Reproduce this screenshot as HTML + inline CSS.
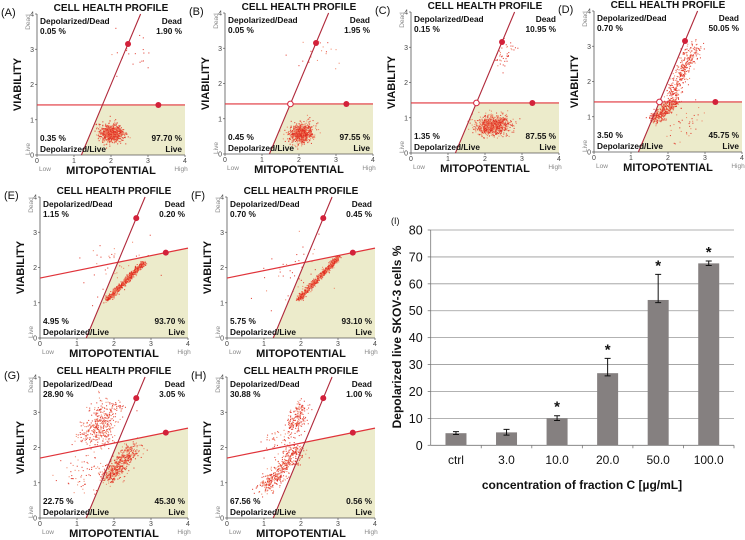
<!DOCTYPE html>
<html><head><meta charset="utf-8"><style>
body{margin:0;background:#fff;}
svg{display:block;font-family:"Liberation Sans",sans-serif;}
</style></head><body>
<svg id="fig" width="745" height="540" viewBox="0 0 745 540"></svg>
<script>
// ---------- Flow panel data ----------
const panelLabels = ["(A)","(B)","(C)","(D)","(E)","(F)","(G)","(H)"];
const panelLeft = [37,225,411,594,40,227,40,227];
const panelTop = [14,13,12,11,197,197,377,377];
const pctDD = ["0.05 %","0.05 %","0.15 %","0.70 %","1.15 %","0.70 %","28.90 %","30.88 %"];
const pctDead = ["1.90 %","1.95 %","10.95 %","50.05 %","0.20 %","0.45 %","3.05 %","1.00 %"];
const pctDL = ["0.35 %","0.45 %","1.35 %","3.50 %","4.95 %","5.75 %","22.75 %","67.56 %"];
const pctLive = ["97.70 %","97.55 %","87.55 %","45.75 %","93.70 %","93.10 %","45.30 %","0.56 %"];
const gateH0 = [1.42,1.42,1.42,1.42,1.7,1.7,1.7,1.7];
const gateH4 = [1.42,1.42,1.42,1.42,2.55,2.55,2.55,2.55];
const gateD0 = [1.2,1.2,1.2,1.2,1.25,1.25,1.25,1.25];
const gateD4 = [2.8,2.8,2.8,2.8,2.84,2.84,2.84,2.84];
const hollow = [false,true,true,true,false,false,false,false];
// clusters: [x0,y0,x1,y1,spread,count]
const clusters = [
 [[1.95,0.6,2.05,0.65,0.16,700],[2.4,2.5,2.8,3.1,0.3,20]],
 [[2.0,0.55,2.1,0.65,0.16,700],[2.3,2.5,2.8,3.1,0.3,20]],
 [[1.9,0.75,2.5,0.85,0.17,750],[2.4,2.5,2.7,3.1,0.12,40]],
 [[1.6,0.9,2.2,1.5,0.09,400],[2.1,1.6,2.7,3.05,0.11,350],[2.2,0.5,2.8,1.2,0.3,40]],
 [[1.8,1.1,2.8,2.15,0.04,650],[1.6,1.2,2.4,2.8,0.4,40]],
 [[1.9,1.1,3.0,2.3,0.04,650],[1.4,1.0,2.2,2.6,0.4,40]],
 [[1.8,1.1,2.5,2.0,0.13,500],[1.4,2.2,1.9,3.2,0.22,400],[1.0,1.0,1.6,1.8,0.3,80]],
 [[1.0,0.8,1.9,2.0,0.13,450],[1.8,2.5,2.0,3.25,0.13,180],[1.2,2.0,1.8,2.6,0.2,60]]
];
// ---------- Bar chart data ----------
const barCats = ["ctrl","3.0","10.0","20.0","50.0","100.0"];
const barVals = [4.5,4.8,10.0,26.8,54.0,67.6];
const errUp = [0.6,1.1,1.0,5.5,9.5,0.9];
const errDn = [0.5,1.0,0.8,1.0,1.0,0.8];
const stars = [false,false,true,true,true,true];
const yTicks = [0,10,20,30,40,50,60,70,80];

const NS="http://www.w3.org/2000/svg";
const svg=document.getElementById('fig');
function mk(tag,attrs,parent){const e=document.createElementNS(NS,tag);for(const k in attrs)e.setAttribute(k,attrs[k]);(parent||svg).appendChild(e);return e;}
let seed=12345;function rnd(){seed=(seed*1103515245+12345)%2147483648;return seed/2147483648;}
function gauss(){let u=rnd()||1e-6,v=rnd();return Math.sqrt(-2*Math.log(u))*Math.cos(2*Math.PI*v);}

const PW=148,PH=141;
for(let p=0;p<8;p++){
  const L=panelLeft[p],T=panelTop[p];
  const g=mk('g',{});
  
  
  const sx=v=>L+v/4*PW, sy=v=>T+PH-v/4*PH;
  const h0=gateH0[p],h4=gateH4[p],d0=gateD0[p],d4=gateD4[p];
  const hs=(h4-h0)/4, ds=4/(d4-d0);
  const ix=(h0+ds*d0)/(ds-hs), iy=h0+hs*ix;
  const poly=mk('polygon',{points:`${sx(d0)},${sy(0)} ${sx(4)},${sy(0)} ${sx(4)},${sy(h4)} ${sx(ix)},${sy(iy)}`,fill:'#ecebcb'},g);
  
  for(const c of clusters[p]){
    const [x0,y0,x1,y1,s,n]=c;
    for(let i=0;i<n;i++){
      const t=rnd();const x=x0+(x1-x0)*t+gauss()*s, y=y0+(y1-y0)*t+gauss()*s*0.8;
      if(x<0||x>4||y<0||y>4)continue;
      mk('rect',{x:sx(x).toFixed(1),y:sy(y).toFixed(1),width:1.1,height:1.1,fill:rnd()<0.6?'#e02a1e':'#f07a5a',opacity:0.8},g);
    }
  }
  const ax=mk('path',{d:`M${L},${T} V${T+PH} H${L+PW}`,stroke:'#555',fill:'none','stroke-width':0.8},g);
  
  for(let k=0;k<=4;k++){
    mk('line',{x1:sx(k),y1:T+PH,x2:sx(k),y2:T+PH+2,stroke:'#555','stroke-width':0.7},g);
    mk('line',{x1:L-2,y1:sy(k),x2:L,y2:sy(k),stroke:'#555','stroke-width':0.7},g);
    const tx=mk('text',{x:sx(k),y:T+PH+8,'font-size':7,'text-anchor':'middle',fill:'#444'},g);tx.textContent=k;
    const ty=mk('text',{x:L-3,y:sy(k)+2.5,'font-size':7,'text-anchor':'end',fill:'#444'},g);ty.textContent=k;
  }
  mk('line',{x1:sx(0),y1:sy(h0),x2:sx(4),y2:sy(h4),stroke:'#e0333a','stroke-width':1.2},g);
  mk('line',{x1:sx(d0),y1:sy(0),x2:sx(d4),y2:sy(4),stroke:'#b0283a','stroke-width':1.1},g);
  const dx=d0+(d4-d0)*(p<4?3.15:3.4)/4;
  mk('circle',{cx:sx(dx),cy:sy(p<4?3.15:3.4),r:3,fill:'#d3213a'},g);
  mk('circle',{cx:sx(p<4?3.28:3.4),cy:sy(h0+hs*(p<4?3.28:3.4)),r:3,fill:'#d3213a'},g);
  if(hollow[p])mk('circle',{cx:sx(ix),cy:sy(iy),r:2.8,fill:'#fff',stroke:'#d3213a','stroke-width':1},g);
  const txt=(x,y,s,sz,anc,w,col)=>{const e=mk('text',{x,y,'font-size':sz,'text-anchor':anc||'start','font-weight':w||'normal',fill:col||'#111'},g);e.textContent=s;return e;};
  txt(L-36,T+2,panelLabels[p],11,'start','normal');
  txt(L+PW/2,T-3,'CELL HEALTH PROFILE',10,'middle','bold');
  txt(L+3,T+10,'Depolarized/Dead',8.3,'start','bold');
  txt(L+3,T+20,pctDD[p],8.3,'start','bold');
  txt(L+PW-3,T+10,'Dead',8.3,'end','bold');
  txt(L+PW-3,T+20,pctDead[p],8.3,'end','bold');
  txt(L+3,T+PH-14,pctDL[p],8.3,'start','bold');
  txt(L+3,T+PH-3,'Depolarized/Live',8.3,'start','bold');
  txt(L+PW-3,T+PH-14,pctLive[p],8.3,'end','bold');
  txt(L+PW-3,T+PH-3,'Live',8.3,'end','bold');
  txt(L+PW/2,T+PH+19,'MITOPOTENTIAL',11,'middle','bold');
  txt(L+8,T+PH+16,'Low',6.5,'middle','normal','#888');
  txt(L+PW-4,T+PH+16,'High',6.5,'middle','normal','#888');
  const vy=mk('text',{x:0,y:0,'font-size':11,'font-weight':'bold','text-anchor':'middle',transform:`translate(${L-16},${T+PH/2}) rotate(-90)`,fill:'#111'},g);vy.textContent='VIABILITY';
  const dd=mk('text',{x:0,y:0,'font-size':6.5,'text-anchor':'middle',transform:`translate(${L-7},${T+8}) rotate(-90)`,fill:'#888'},g);dd.textContent='Dead';
  const lv=mk('text',{x:0,y:0,'font-size':6.5,'text-anchor':'middle',transform:`translate(${L-7},${T+PH-6}) rotate(-90)`,fill:'#888'},g);lv.textContent='Live';
}

// ---------- Bar chart ----------
const bx0=430.7,bx1=734,by0=445.3,by80=230;
const ys=v=>by0-(v/80)*(by0-by80);
const bw=(bx1-bx0)/barCats.length;
const bc=mk('g',{});


const lab=mk('text',{x:391,y:224,'font-size':9,fill:'#111'},bc);lab.textContent='(I)';
for(const t of yTicks){
  if(t>0){const gl=mk('line',{x1:bx0,y1:ys(t),x2:bx1,y2:ys(t),stroke:'#999','stroke-width':0.8},bc);}
  mk('line',{x1:bx0-3,y1:ys(t),x2:bx0,y2:ys(t),stroke:'#777','stroke-width':0.8},bc);
  const tl=mk('text',{x:bx0-8,y:ys(t)+4.5,'font-size':12.5,'text-anchor':'end',fill:'#111'},bc);tl.textContent=t;
}
mk('line',{x1:bx0,y1:by80,x2:bx0,y2:by0,stroke:'#777','stroke-width':0.8},bc);
mk('line',{x1:bx0,y1:by0,x2:bx1,y2:by0,stroke:'#777','stroke-width':0.8},bc);
barCats.forEach((c,i)=>{
  const cx=bx0+bw*(i+0.5);
  mk('line',{x1:bx0+bw*(i+1),y1:by0,x2:bx0+bw*(i+1),y2:by0+3,stroke:'#777','stroke-width':0.8},bc);
  const r=mk('rect',{x:cx-10.5,y:ys(barVals[i]),width:21,height:by0-ys(barVals[i]),fill:'#858080'},bc);
  
  
  const top=ys(barVals[i]+errUp[i]),bot=ys(barVals[i]-errDn[i]);
  mk('path',{d:`M${cx},${top} V${bot} M${cx-3},${top} H${cx+3} M${cx-3},${bot} H${cx+3}`,stroke:'#111','stroke-width':1,fill:'none'},bc);
  if(stars[i]){const s=mk('text',{x:cx,y:top-4,'font-size':15,'font-weight':'bold','text-anchor':'middle',fill:'#111'},bc);s.textContent='*';}
  const xl=mk('text',{x:cx,y:464,'font-size':12,'text-anchor':'middle',fill:'#111'},bc);xl.textContent=c;
});
const xt=mk('text',{x:582,y:489,'font-size':12,'font-weight':'bold','text-anchor':'middle',fill:'#111'},bc);xt.textContent='concentration of fraction C [µg/mL]';

const yt=mk('text',{x:0,y:0,'font-size':12,'font-weight':'bold','text-anchor':'middle',transform:'translate(401,337) rotate(-90)',fill:'#111'},bc);yt.textContent='Depolarized live SKOV-3 cells %';

</script>
</body></html>
